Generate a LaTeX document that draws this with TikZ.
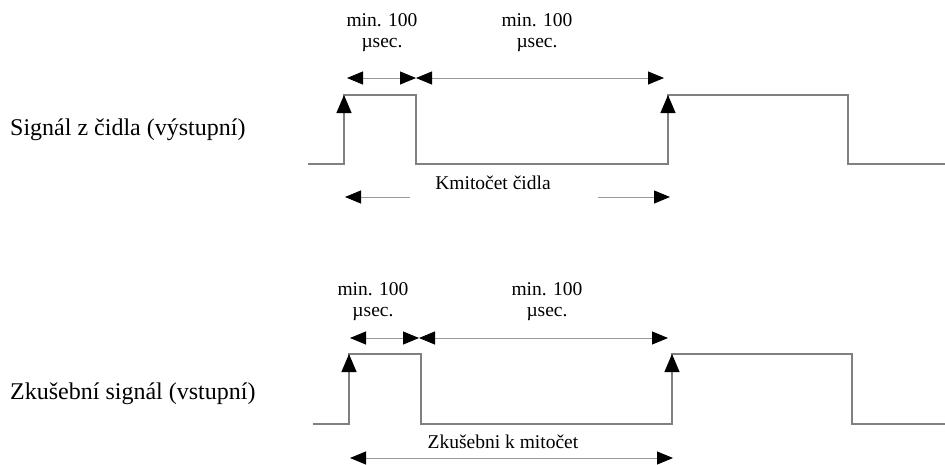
\documentclass[tikz,border=0pt]{standalone}
\usepackage{fontspec}
\newfontfamily\captionserif{Liberation Serif}
\usetikzlibrary{arrows.meta, positioning}

\begin{document}
\begin{tikzpicture}[x=1pt, y=-1pt, >={Triangle[length=16pt, width=13pt, color=black]}]
    % Styles
    \tikzstyle{signal} = [draw=black!50, line width=1.2pt]
    \tikzstyle{dim} = [draw=black!40, line width=0.9pt]
    \tikzstyle{edge} = [-{Triangle[length=18pt, width=15pt, color=black]}]
    \tikzstyle{note} = [font=\captionserif\fontsize{19.5}{21}\selectfont, align=center, inner sep=0pt]
    \tikzstyle{caption} = [font=\captionserif\fontsize{24}{26}\selectfont, anchor=west, inner sep=0pt]

    \useasboundingbox (0,0) rectangle (945,464);

    % Captions
    \node[caption] (cap_out) at (10,130) {Signál z čidla (výstupní)};
    \node[caption] (cap_in) at (10,394) {Zkušební signál (vstupní)};

    % Output signal corners
    \coordinate (out_start) at (308,164);
    \coordinate (out_r1) at (344,164);
    \coordinate (out_h1) at (344,95);
    \coordinate (out_f1) at (416,95);
    \coordinate (out_l1) at (416,164);
    \coordinate (out_r2) at (668,164);
    \coordinate (out_h2) at (668,95);
    \coordinate (out_f2) at (848,95);
    \coordinate (out_l2) at (848,164);
    \coordinate (out_end) at (945,164);

    % Input signal corners
    \coordinate (in_start) at (313,424);
    \coordinate (in_r1) at (349,424);
    \coordinate (in_h1) at (349,354);
    \coordinate (in_f1) at (421,354);
    \coordinate (in_l1) at (421,424);
    \coordinate (in_r2) at (672,424);
    \coordinate (in_h2) at (672,354);
    \coordinate (in_f2) at (852,354);
    \coordinate (in_l2) at (852,424);
    \coordinate (in_end) at (945,424);

    % Waveforms
    \draw[signal] (out_start) -- (out_r1) -- (out_h1) -- (out_f1) -- (out_l1) -- (out_r2) -- (out_h2) -- (out_f2) -- (out_l2) -- (out_end);
    \draw[signal] (in_start) -- (in_r1) -- (in_h1) -- (in_f1) -- (in_l1) -- (in_r2) -- (in_h2) -- (in_f2) -- (in_l2) -- (in_end);

    % Rising edges
    \draw[signal, edge] (out_r1) -- (out_h1);
    \draw[signal, edge] (out_r2) -- (out_h2);
    \draw[signal, edge] (in_r1) -- (in_h1);
    \draw[signal, edge] (in_r2) -- (in_h2);

    % Timing labels
    \node[note] (pulse_out) at (382,33) {min. 100\\µsec.};
    \node[note] (gap_out) at (537,33) {min. 100\\µsec.};
    \node[note] (pulse_in) at (373,302) {min. 100\\µsec.};
    \node[note] (gap_in) at (547,302) {min. 100\\µsec.};

    % Timing arrows
    \coordinate (out_d0) at (347,78);
    \coordinate (out_d1) at (416,78);
    \coordinate (out_d2) at (664,78);
    \coordinate (in_d0) at (350,338);
    \coordinate (in_d1) at (419,338);
    \coordinate (in_d2) at (668,338);
    \draw[dim, <->] (out_d0) -- (out_d1);
    \draw[dim, <->] (out_d1) -- (out_d2);
    \draw[dim, <->] (in_d0) -- (in_d1);
    \draw[dim, <->] (in_d1) -- (in_d2);

    % Frequency
    \node[note] (freq_out) at (493,183) {Kmitočet čidla};
    \node[note] (freq_in) at (503,442) {Zkušebni k mitočet};
    \coordinate (out_k0) at (345,197);
    \coordinate (out_k1) at (410,197);
    \coordinate (out_k2) at (598,197);
    \coordinate (out_k3) at (670,197);
    \coordinate (in_k0) at (350,458);
    \coordinate (in_k1) at (673,458);
    \draw[dim, ->] (out_k1) -- (out_k0);
    \draw[dim, ->] (out_k2) -- (out_k3);
    \draw[dim, <->] (in_k0) -- (in_k1);
\end{tikzpicture}
\end{document}
